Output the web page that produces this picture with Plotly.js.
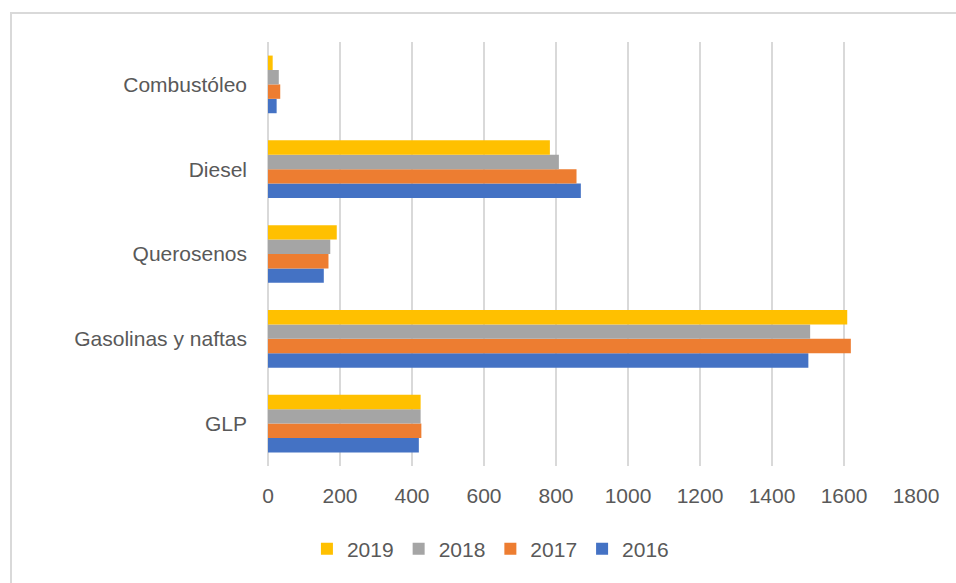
<!DOCTYPE html>
<html><head><meta charset="utf-8">
<script src="https://cdn.plot.ly/plotly-3.0.1.min.js"></script>
<style>
html,body{margin:0;padding:0;background:#fff;overflow:hidden;}
#frame{position:absolute;left:10px;top:12px;width:960px;height:600px;border:2px solid #d9d9d9;box-sizing:border-box;pointer-events:none;z-index:5;}
#chart{position:absolute;left:0;top:0;width:956px;height:583px;}
</style></head>
<body>
<div id="chart"></div>
<div id="frame"></div>
<script>
const categories = ["GLP", "Gasolinas y naftas", "Querosenos", "Diesel", "Combustóleo"];
const years = ["2016", "2017", "2018", "2019"];
const v2016 = [419, 1501, 155, 869, 24];
const v2017 = [426, 1619, 168, 857, 34];
const v2018 = [424, 1506, 173, 808, 30];
const v2019 = [424, 1609, 191, 783, 13];
const colors = ["#4472C4", "#ED7D31", "#A5A5A5", "#FFC000"];
const tickVals = [0, 200, 400, 600, 800, 1000, 1200, 1400, 1600, 1800];

const series = [v2016, v2017, v2018, v2019];
const data = series.map((vals, i) => ({
  type: "bar",
  orientation: "h",
  name: years[i],
  x: vals,
  y: categories,
  marker: {color: colors[i]},
  hoverinfo: "x+name"
}));

const layout = {
  width: 956, height: 583,
  margin: {l: 268, r: 40, t: 42, b: 117},
  paper_bgcolor: "#ffffff",
  plot_bgcolor: "#ffffff",
  barmode: "group",
  bargap: 0.32,
  bargroupgap: 0,
  font: {family: "Liberation Sans, Arial, sans-serif", size: 21, color: "#595959"},
  xaxis: {
    range: [0, 1800],
    tickvals: tickVals,
    ticktext: tickVals.map(String),
    showgrid: true,
    gridcolor: "#d9d9d9",
    gridwidth: 1.5,
    zeroline: true,
    zerolinecolor: "#d9d9d9",
    zerolinewidth: 1.5,
    showline: false,
    ticks: "",
    ticklen: 0,
    ticklabelstandoff: 15,
    tickfont: {size: 21, color: "#595959"},
    fixedrange: true
  },
  yaxis: {
    type: "category",
    categoryorder: "array",
    categoryarray: categories,
    showgrid: false,
    showline: false,
    ticks: "",
    ticklabelstandoff: 20,
    tickfont: {size: 21, color: "#595959"},
    fixedrange: true
  },
  legend: {
    orientation: "h",
    traceorder: "reversed",
    x: 0.513, xanchor: "center",
    xref: "container",
    y: 0.058, yanchor: "middle",
    yref: "container",
    font: {size: 21, color: "#595959"},
    itemwidth: 30,
    itemsizing: "constant"
  },
  showlegend: true
};

Plotly.newPlot("chart", data, layout, {displayModeBar: false, staticPlot: true});
</script>
</body></html>
